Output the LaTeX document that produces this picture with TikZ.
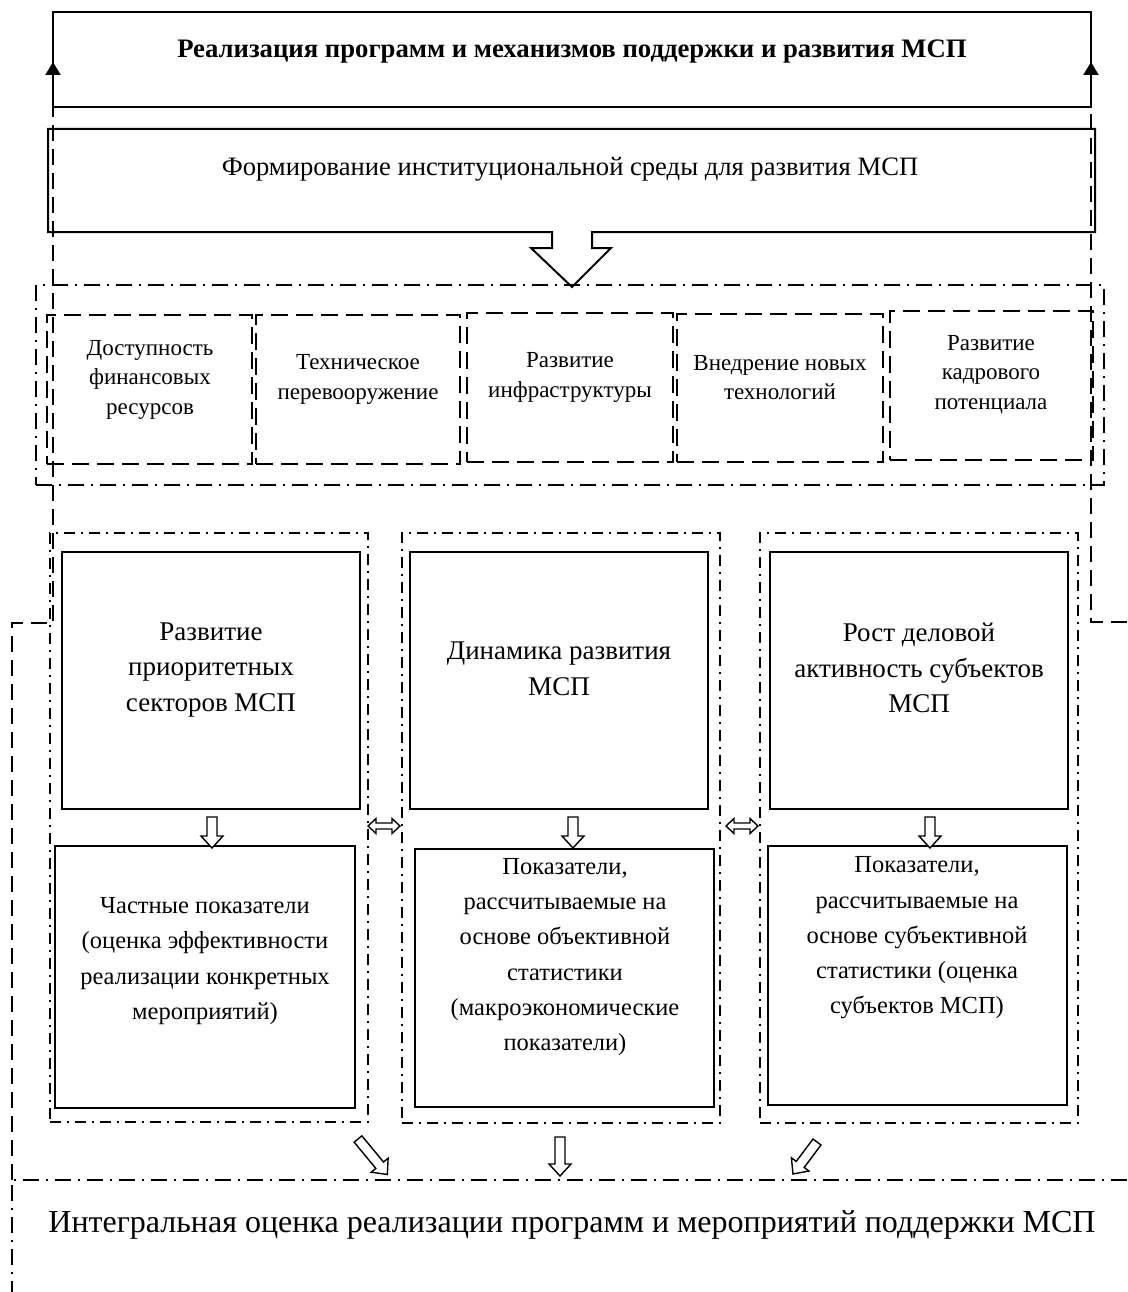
\documentclass[tikz,border=0pt]{standalone}
\usepackage{fontspec}
\setmainfont{Liberation Serif}
\usetikzlibrary{arrows.meta}
\newcommand\fsFive{\fontsize{23}{29.5}\selectfont}
\newcommand\fsUpper{\fontsize{27}{35.8}\selectfont}
\newcommand\fsLower{\fontsize{24.5}{35.2}\selectfont}
\newcommand\harrowAt[3]{% start, angle, length
  \begin{scope}[shift={(#1)},rotate=#2]
    \draw[harr] (0pt,-5pt) -- ({#3pt-12pt},-5pt) -- ({#3pt-12pt},-11pt) -- (#3pt,0pt) -- ({#3pt-12pt},11pt) -- ({#3pt-12pt},5pt) -- (0pt,5pt) -- cycle;
  \end{scope}}
\newcommand\dblarrowAt[2]{% start, length
  \begin{scope}[shift={(#1)}]
    \draw[harr] (0pt,0pt) -- (8pt,-7.5pt) -- (8pt,-3pt) -- ({#2pt-8pt},-3pt) -- ({#2pt-8pt},-7.5pt) -- (#2pt,0pt) -- ({#2pt-8pt},7.5pt) -- ({#2pt-8pt},3pt) -- (8pt,3pt) -- (8pt,7.5pt) -- cycle;
  \end{scope}}
\begin{document}
\begin{tikzpicture}[x=1pt,y=-1pt,
  box/.style={anchor=north west, inner sep=0pt, outer sep=0pt},
  solidbox/.style={box, draw, line width=2pt},
  dashbox/.style={box, draw, line width=1.8pt, dash pattern=on 17pt off 8pt},
  ddbox/.style={box, draw, line width=1.6pt, dash pattern=on 16pt off 7pt on 2pt off 7pt},
  ddline/.style={line width=1.6pt, dash pattern=on 16pt off 7pt on 2pt off 7pt},
  coldd/.style={box, draw, line width=1.6pt, dash pattern=on 11pt off 6pt on 2pt off 6pt},
  link/.style={line width=2pt, dash pattern=on 16pt off 8pt},
  harr/.style={draw, line width=1.4pt, fill=white, line join=miter},
  txt/.style={inner sep=0pt, align=center},
  tip/.style={line width=2pt, -{Triangle[length=13pt,width=15pt]}},
]
\useasboundingbox (0,0) rectangle (1127,1292);
\fill[white] (0,0) rectangle (1127,1292);

% top box
\node[solidbox, minimum width=1038pt, minimum height=95pt] (top) at (53,12) {};
\node[txt, anchor=base, font=\fontsize{26.7}{30}\selectfont\bfseries] (toptxt) at (572,58)
  {Реализация программ и механизмов поддержки и развития МСП};

% formation box with big hollow arrow
\node[box, minimum width=1047pt, minimum height=103pt] (form) at (48,129) {};
\coordinate (fA) at (552,232);
\coordinate (fB) at (592,232);
\draw[line width=2pt, line join=miter] (form.south west) -- (form.north west) -- (form.north east) -- (form.south east)
  -- (fB) -- (592,248) -- (611,248) -- (572,287) -- (531,248) -- (552,248) -- (fA) -- cycle;
\node[txt, anchor=base, font=\fontsize{26.6}{30}\selectfont] (formtxt) at (570,176)
  {Формирование институциональной среды для развития МСП};

% five factors
\node[ddbox, minimum width=1068pt, minimum height=200pt] (factors) at (36,285) {};
\node[dashbox, minimum width=205pt, minimum height=149pt] (b1) at (47,315) {};
\node[dashbox, minimum width=204pt, minimum height=149pt] (b2) at (256,315) {};
\node[dashbox, minimum width=206pt, minimum height=149pt] (b3) at (467,313) {};
\node[dashbox, minimum width=206pt, minimum height=148pt] (b4) at (677,314) {};
\node[dashbox, minimum width=203pt, minimum height=149pt] (b5) at (890,311) {};
\node[txt, font=\fsFive] (t1) at (150,379.5) {Доступность\\финансовых\\ресурсов};
\node[txt, font=\fsFive] (t2) at (358,379.5) {Техническое\\перевооружение};
\node[txt, font=\fsFive] (t3) at (570,377.5) {Развитие\\инфраструктуры};
\node[txt, font=\fsFive] (t4) at (780,377.5) {Внедрение новых\\технологий};
\node[txt, font=\fsFive] (t5) at (991,374.5) {Развитие\\кадрового\\потенциала};

% columns
\node[coldd, minimum width=318pt, minimum height=589pt] (c1) at (50,533) {};
\node[coldd, minimum width=318pt, minimum height=590pt] (c2) at (402,533) {};
\node[coldd, minimum width=318pt, minimum height=590pt] (c3) at (760,533) {};
\node[solidbox, minimum width=298pt, minimum height=257pt] (u1) at (62,552) {};
\node[solidbox, minimum width=298pt, minimum height=257pt] (u2) at (410,552) {};
\node[solidbox, minimum width=298pt, minimum height=257pt] (u3) at (770,552) {};
\node[solidbox, minimum width=300pt, minimum height=262pt] (l1) at (55,846) {};
\node[solidbox, minimum width=299pt, minimum height=258pt] (l2) at (415,849) {};
\node[solidbox, minimum width=299pt, minimum height=259pt] (l3) at (768,846) {};

\node[txt, font=\fsUpper] (ut1) at (211,670) {Развитие\\приоритетных\\секторов МСП};
\node[txt, font=\fsUpper] (ut2) at (559,669) {Динамика развития\\МСП};
\node[txt, font=\fsUpper] (ut3) at (919,668) {Рост деловой\\активность субъектов\\МСП};

\node[txt, font=\fsLower] (lt1) at (205,961) {Частные показатели\\(оценка эффективности\\реализации конкретных\\мероприятий)};
\node[txt, font=\fsLower] (lt2) at (565,957) {Показатели,\\рассчитываемые на\\основе объективной\\статистики\\(макроэкономические\\показатели)};
\node[txt, font=\fsLower] (lt3) at (917,938) {Показатели,\\рассчитываемые на\\основе субъективной\\статистики (оценка\\субъектов МСП)};

% hollow arrows between boxes
\harrowAt{212,817}{-90}{31}
\harrowAt{573,817}{-90}{31}
\harrowAt{930,817}{-90}{31}
\dblarrowAt{368,826}{32}
\dblarrowAt{726,826}{32}

% bottom evaluation area
\coordinate (botL) at (12,1180);
\coordinate (botR) at (1127,1180);
\coordinate (botD) at (12,1292);
\draw[ddline] (botR) -- (botL) -- (botD);
\node[txt, anchor=base, font=\fontsize{32}{36}\selectfont] (bottxt) at (572,1232)
  {Интегральная оценка реализации программ и мероприятий поддержки МСП};

\harrowAt{358,1139}{-50.4}{46}
\harrowAt{560,1137}{-90}{39}
\harrowAt{817,1142}{-126.9}{40}

% feedback connectors
\coordinate (lTurn) at (12,623);
\coordinate (lUp) at (53,623);
\coordinate (tipL) at (53,62);
\draw[link] (botL) -- (lTurn) -- (lUp) -- (top.south west);
\draw[tip] (top.south west) -- (tipL);
\coordinate (rEnd) at (1127,622);
\coordinate (rUp) at (1091,622);
\coordinate (tipR) at (1091,62);
\draw[link] (rEnd) -- (rUp) -- (top.south east);
\draw[tip] (top.south east) -- (tipR);
\end{tikzpicture}
\end{document}
